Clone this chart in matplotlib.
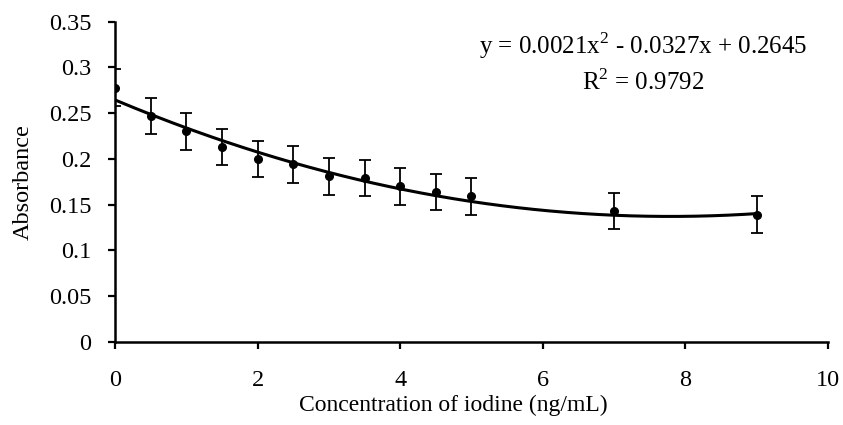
import numpy as np
import matplotlib
matplotlib.use("Agg")
import matplotlib.pyplot as plt

# concentration (ng/mL) and measured absorbance
conc = [0, 0.5, 1, 1.5, 2, 2.5, 3, 3.5, 4, 4.5, 5, 7, 9]
absorb = [0.278, 0.247, 0.230, 0.213, 0.200, 0.194, 0.181, 0.179, 0.170,
          0.164, 0.159, 0.143, 0.139]
err = [0.02] * len(conc)

# quadratic trendline coefficients as printed on the chart
trend_coef = [0.0021, -0.0327, 0.2645]
r2_text = "0.9792"

plt.rcParams['font.family'] = ['Liberation Serif', 'DejaVu Serif']
plt.rcParams['mathtext.fontset'] = 'custom'
plt.rcParams['mathtext.rm'] = 'Liberation Serif'

fig = plt.figure(figsize=(8.43, 4.25), dpi=100)
ax = fig.add_axes([0.1364, 0.1953, 0.9822 - 0.1364, 0.949 - 0.1953])

xs = np.linspace(0, 9, 200)
ax.plot(xs, np.polyval(trend_coef, xs), color='black', lw=2.2, zorder=2)
ax.errorbar(conc, absorb, yerr=err, fmt='o', color='black', ms=5.5,
            elinewidth=1.3, capsize=4.5, capthick=1.3, zorder=3)

ax.set_xlim(0, 10)
ax.set_ylim(0, 0.35)
ax.set_xticks(np.arange(0, 11, 2))
ax.set_yticks(np.arange(0, 0.351, 0.05))
ax.set_yticklabels(['0', '0.05', '0.1', '0.15', '0.2', '0.25', '0.3', '0.35'])

for side in ['top', 'right']:
    ax.spines[side].set_visible(False)
for side in ['left', 'bottom']:
    ax.spines[side].set_linewidth(1.8)
ax.tick_params(direction='out', length=5, width=1.6, labelsize=17.5)
ax.tick_params(axis='x', pad=15.5)
ax.tick_params(axis='y', pad=12)

ax.set_xlabel('Concentration of iodine (ng/mL)', fontsize=17)
ax.xaxis.set_label_coords(0.474, -0.165)
ax.set_ylabel('Absorbance', fontsize=17.5, va='center')
ax.yaxis.set_label_coords(-0.128, 0.5)

ax.text(0.7405, 0.925, 'y = 0.0021x$^{2}$ - 0.0327x + 0.2645', transform=ax.transAxes,
        ha='center', va='center', fontsize=18)
ax.text(0.7405, 0.81, 'R$^{2}$ = ' + r2_text, transform=ax.transAxes,
        ha='center', va='center', fontsize=18)

fig.savefig('out.png', dpi=100)
